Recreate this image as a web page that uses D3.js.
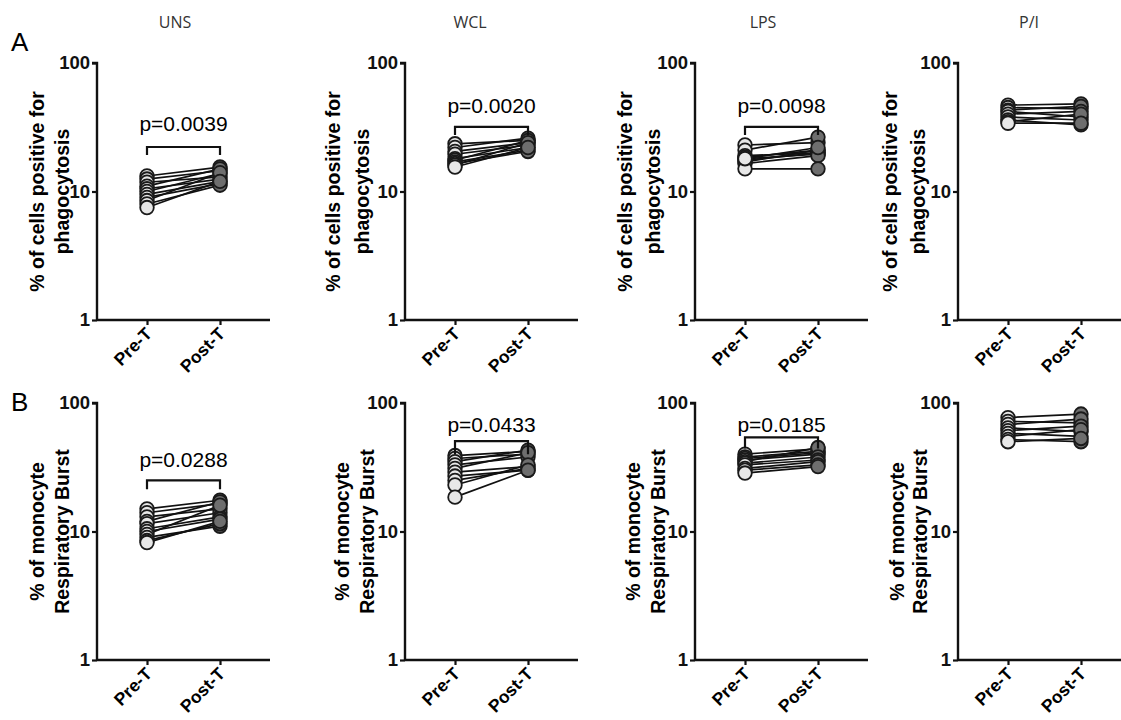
<!DOCTYPE html>
<html lang="en">
<head>
    <meta charset="UTF-8">
    <title>Phagocytosis and respiratory burst, Pre-T vs Post-T</title>
    <style>
        body { margin: 0; background: #fff; }
        svg { display: block; }
        .tick-lbl { font-family: "Liberation Sans", Arial, sans-serif; font-weight: bold; font-size: 18.5px; }
        .ytitle { font-family: "Liberation Sans", Arial, sans-serif; font-weight: bold; font-size: 19.5px; }
        .xlbl { font-family: "Liberation Sans", Arial, sans-serif; font-weight: bold; font-size: 17.5px; }
        .ptxt { font-family: "Liberation Sans", Arial, sans-serif; font-size: 21px; }
        .stim { font-family: "Open Sans", sans-serif; font-size: 16px; fill: #333; }
        .letter { font-family: "Liberation Sans", Arial, sans-serif; font-size: 26px; }
    </style>
</head>
<body>
<svg id="chart"></svg>
<script src="https://cdn.jsdelivr.net/npm/d3@7/dist/d3.min.js"></script>
<script>

    // ---- data ----
    const stimuli = ['UNS', 'WCL', 'LPS', 'P/I']
    const groups = ['Pre-T', 'Post-T']
    const yTicks = [1, 10, 100]
    const rowTitles = [
        ['% of cells positive for', 'phagocytosis'],
        ['% of monocyte', 'Respiratory Burst']
    ]

    // row A: phagocytosis, one array per stimulus, paired by subject
    const phagoPre = [
        [13.2, 12.5, 11.8, 11.0, 10.5, 10.0, 9.5, 9.0, 8.5, 8.0, 7.5],
        [23.5, 22.0, 20.5, 19.5, 18.0, 17.5, 17.0, 16.5, 16.0, 15.5],
        [23.0, 21.0, 19.0, 18.5, 18.0, 17.5, 17.0, 16.5, 15.0, 18.0],
        [47, 45, 43, 42, 40, 38, 36, 35, 34]
    ]
    const phagoPost = [
        [15.5, 14.5, 13.0, 15.0, 12.5, 13.8, 12.0, 11.5, 14.0, 11.2, 12.0],
        [25.0, 26.0, 24.0, 23.0, 22.0, 25.0, 21.0, 20.5, 24.0, 22.0],
        [24.0, 26.5, 20.0, 21.0, 19.5, 20.0, 21.0, 19.0, 15.0, 22.0],
        [48, 44, 46, 38, 42, 36, 33, 40, 34]
    ]
    // row B: respiratory burst
    const burstPre = [
        [15.0, 14.0, 13.0, 12.0, 11.5, 10.5, 10.0, 9.5, 9.0, 8.5, 8.2],
        [39, 37, 35, 33, 31, 29, 27, 25, 23, 18.5],
        [40, 38, 37, 36, 35, 34, 33, 31, 30, 28.5],
        [77, 72, 68, 64, 61, 58, 55, 52, 50]
    ]
    const burstPost = [
        [17.5, 16.5, 15.0, 17.0, 14.0, 13.0, 12.5, 16.0, 11.0, 11.5, 12.0],
        [42, 40, 43, 38, 41, 32, 30, 31, 33, 30],
        [44, 42, 41, 40, 45, 38, 36, 35, 33, 32],
        [82, 70, 75, 60, 66, 55, 62, 50, 53]
    ]

    // p-values and the level (in % units) of each bracket; null = no bracket
    const phagoP = ['p=0.0039', 'p=0.0020', 'p=0.0098', null]
    const phagoBar = [22.2, 31.8, 31.8, null]
    const burstP = ['p=0.0288', 'p=0.0433', 'p=0.0185', null]
    const burstBar = [25, 50.5, 54, null]

    // ---- layout ----
    const W = 1121, H = 720
    const axisX = [97, 405, 695, 958]
    const rowTop = [63, 403]
    const plotH = 257
    const plotW = 173
    const stimX = [175, 470, 763, 1029]
    const titleOff = [
        [[-60, -35], [-72, -43], [-70, -42], [-68, -40]],
        [[-60, -35], [-63, -38], [-62, -37], [-61, -38]]
    ]
    const pTextGap = [[16, 14, 14, 0], [13, 9, 5, 0]]
    const barTick = [[8, 8, 8, 0], [9, 13, 11, 0]]

    const rows = [
        {pre: phagoPre, post: phagoPost, p: phagoP, bar: phagoBar},
        {pre: burstPre, post: burstPost, p: burstP, bar: burstBar}
    ]

    const svg = d3.select('#chart').attr('width', W).attr('height', H)

    // stimulus headers and panel letters
    svg.selectAll('text.stim').data(stimuli).enter().append('text')
        .attr('class', 'stim')
        .attr('x', (d, i) => stimX[i])
        .attr('y', 28)
        .attr('text-anchor', 'middle')
        .text(d => d)

    svg.append('text').attr('class', 'letter').attr('x', 11).attr('y', 51).text('A')
    svg.append('text').attr('class', 'letter').attr('x', 11).attr('y', 411).text('B')

    rows.forEach((row, r) => {
        stimuli.forEach((s, c) => {
            const g = svg.append('g').attr('transform', `translate(${axisX[c]},${rowTop[r]})`)

            const y = d3.scaleLog().domain([1, 100]).range([plotH, 0])
            const x = d3.scalePoint().domain(groups).range([50, 123])

            // y axis
            const yAxis = d3.axisLeft(y).tickValues(yTicks).tickFormat(d3.format('d')).tickSize(5).tickPadding(2)
            const ya = g.append('g').call(yAxis)
            ya.select('.domain').attr('stroke', '#111').attr('stroke-width', 2.4).attr('d', `M-5,0H0V${plotH}`)
            ya.selectAll('.tick line').attr('stroke', '#111').attr('stroke-width', 2.2)
            ya.selectAll('.tick text').attr('class', 'tick-lbl').attr('fill', '#111')

            // x axis
            const xAxis = d3.axisBottom(x).tickSize(5).tickSizeOuter(0).tickFormat('')
            const xa = g.append('g').attr('transform', `translate(0,${plotH})`).call(xAxis)
            xa.select('.domain').attr('stroke', '#111').attr('stroke-width', 2.4).attr('d', `M0,0H${plotW}`)
            xa.selectAll('.tick line').attr('stroke', '#111').attr('stroke-width', 2.2)

            g.selectAll('text.xlbl').data(groups).enter().append('text')
                .attr('class', 'xlbl')
                .attr('text-anchor', 'end')
                .attr('transform', d => `translate(${x(d) + 6},${plotH + 15}) rotate(-45)`)
                .text(d => d)

            // y title (two lines, rotated)
            rowTitles[r].forEach((line, li) => {
                g.append('text')
                    .attr('class', 'ytitle')
                    .attr('text-anchor', 'middle')
                    .attr('dominant-baseline', 'central')
                    .attr('transform', `translate(${titleOff[r][c][li]},${plotH / 2}) rotate(-90)`)
                    .text(line)
            })

            // paired lines
            const pre = row.pre[c], post = row.post[c]
            const pairs = pre.map((v, i) => [v, post[i]])
            g.selectAll('line.pair').data(pairs).enter().append('line')
                .attr('x1', x('Pre-T')).attr('x2', x('Post-T'))
                .attr('y1', d => y(d[0])).attr('y2', d => y(d[1]))
                .attr('stroke', '#111').attr('stroke-width', 1.7)

            g.selectAll('circle.pre').data(pre).enter().append('circle')
                .attr('cx', x('Pre-T')).attr('cy', d => y(d)).attr('r', 6.8)
                .attr('fill', '#e8e8e8').attr('stroke', '#1a1a1a').attr('stroke-width', 1.8)

            g.selectAll('circle.post').data(post).enter().append('circle')
                .attr('cx', x('Post-T')).attr('cy', d => y(d)).attr('r', 6.8)
                .attr('fill', '#6e6e6e').attr('stroke', '#1a1a1a').attr('stroke-width', 1.8)

            // significance bracket
            if (row.p[c]) {
                const by = y(row.bar[c])
                const t = barTick[r][c]
                g.append('path')
                    .attr('d', `M${x('Pre-T')},${by + t}V${by}H${x('Post-T')}V${by + t}`)
                    .attr('fill', 'none').attr('stroke', '#111').attr('stroke-width', 2.2)
                g.append('text')
                    .attr('class', 'ptxt')
                    .attr('text-anchor', 'middle')
                    .attr('x', (x('Pre-T') + x('Post-T')) / 2)
                    .attr('y', by - pTextGap[r][c])
                    .text(row.p[c])
            }
        })
    })
</script>
</body>
</html>
